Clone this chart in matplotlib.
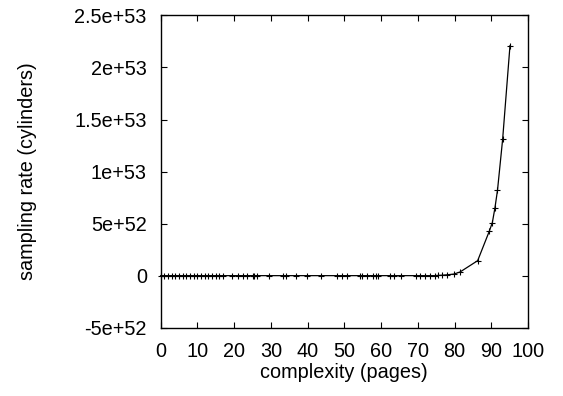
import matplotlib
matplotlib.use("Agg")
import matplotlib.pyplot as plt

plt.rcParams['font.family'] = ['Liberation Sans', 'DejaVu Sans']

# complexity (pages) vs sampling rate (cylinders)
complexity = [0, 1, 2, 3, 4, 5, 6, 7, 8, 9, 10, 11, 12, 13, 14, 15, 16, 17,
              19.5, 21, 22.5, 23.5, 25, 25.4, 26.3, 29.5, 33.2, 34.0, 36.8,
              39.8, 43.6, 48.1, 49.3, 50.6, 54.3, 54.7, 56.2, 57.9, 58.5,
              59.2, 62.4, 63.5, 65.4, 69.4, 70.6, 72.0, 73.3, 74.7, 75.6,
              76.5, 77.9, 79.8, 81.5, 86.3, 89.5, 90.3, 91.0, 91.7, 93.1, 95.1]
sampling_rate = [0] * 48 + [0.2e51, 0.4e51, 0.8e51, 1.5e51, 3.5e51, 1.44e52,
                            4.3e52, 5.1e52, 6.5e52, 8.2e52, 1.31e53, 2.21e53]

fig = plt.figure(figsize=(5.63, 3.96), dpi=100)
ax = fig.add_axes([0.2854, 0.1725, 0.9378 - 0.2854, 0.961 - 0.1725])

ax.plot(complexity, sampling_rate, color='black', linewidth=0.9,
        marker='+', markersize=5, markeredgewidth=0.8, clip_on=False)

ax.set_xlim(0, 100)
ax.set_ylim(-5e52, 2.5e53)
ax.set_xticks(range(0, 101, 10))
yticks = [-5e52, 0, 5e52, 1e53, 1.5e53, 2e53, 2.5e53]
ytick_labels = ['-5e+52', '0', '5e+52', '1e+53', '1.5e+53', '2e+53', '2.5e+53']
ax.set_yticks(yticks)
ax.set_yticklabels(ytick_labels)

ax.tick_params(direction='in', length=4, width=0.8, top=True, right=True,
               labelsize=14.3, pad=10)
for s in ax.spines.values():
    s.set_linewidth(1)

ax.set_xlabel('complexity (pages)', fontsize=14.3)
ax.set_ylabel('sampling rate (cylinders)', fontsize=14.3)
ax.xaxis.set_label_coords(0.5, -0.112)
ax.yaxis.set_label_coords(-0.337, 0.5)

fig.savefig('out.png', dpi=100)
